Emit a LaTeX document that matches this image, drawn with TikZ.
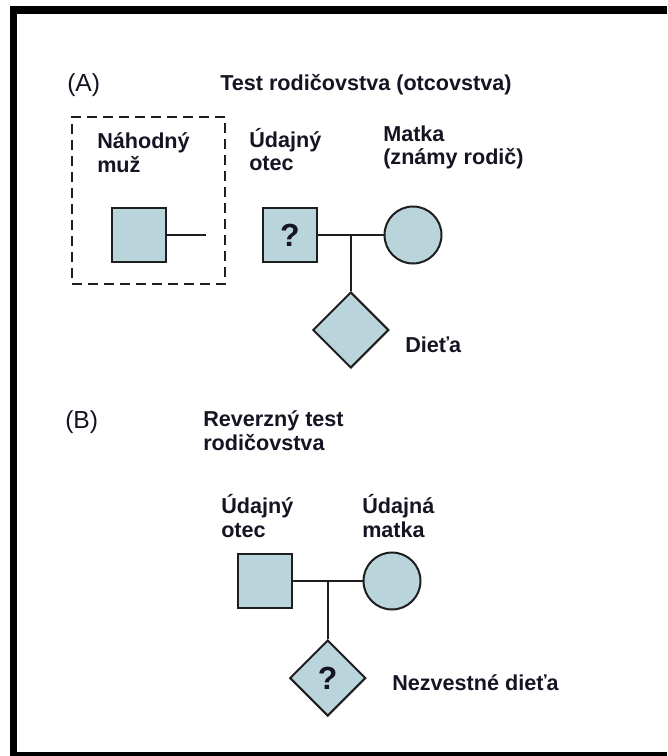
\documentclass[tikz,border=0pt]{standalone}
\usepackage{fontspec}
\setmainfont{Liberation Sans}
\usetikzlibrary{
  shapes.geometric,
  calc,
  positioning}

\definecolor{pedfill}{RGB}{186,212,219}
\definecolor{pedline}{RGB}{30,30,30}
\definecolor{pedtext}{RGB}{20,20,35}

\begin{document}
\begin{tikzpicture}[x=0.75pt,y=-0.75pt]
  \tikzset{manbox/.style={draw=pedline,
                          fill=pedfill,
                          line width=1.5pt,
                          rectangle,
                          minimum size=40.5pt,
                          inner sep=0pt},
           womancirc/.style={draw=pedline,
                             fill=pedfill,
                             line width=1.5pt,
                             circle,
                             minimum size=42.75pt,
                             inner sep=0pt},
           kiddiamond/.style={draw=pedline,
                              fill=pedfill,
                              line width=1.5pt,
                              diamond,
                              aspect=1,
                              minimum size=57pt,
                              inner sep=0pt},
           qmark/.style={font=\fontsize{24}{28}\selectfont\bfseries,
                         text=pedtext},
           tag/.style={inner sep=0pt,
                       align=left,
                       anchor=base west,
                       text=pedtext,
                       font=\fontsize{16.2}{17.5}\selectfont\bfseries},
           part/.style={inner sep=0pt,
                        anchor=base west,
                        text=pedtext,
                        font=\fontsize{18.5}{20}\selectfont},
           link/.style={draw=pedline,
                        line width=1.5pt},
           dashbox/.style={draw=pedline,
                           line width=1.9pt,
                           dash pattern=on 7.5pt off 4.5pt,
                           rectangle,
                           inner sep=0pt}
           }

\useasboundingbox (0,0) rectangle (667,756);

%%%%%%%%%%%%%%%%%%%%%%%%%%%%%%%%%%%%%%%%%%%%%%%%%%%%%%%%%%%%%%%%%%%%%%%%%%%%%%

\draw[line width=5.25pt] (13.5,6) -- (13.5,756);
\draw[line width=6pt] (10,10) -- (667,10);
\draw[line width=4.5pt] (10,755) -- (667,755);

%%%%%%%%%%%%%%%%%%%%%%%%%%%%%%%%%%%%%%%%%%%%%%%%%%%%%%%%%%%%%%%%%%%%%%%%%%%%%%

\node[part] (PA) at (67,92) {(A)};
\node[tag] (TA) at (220,91) {Test rodičovstva (otcovstva)};

\node[dashbox,minimum width=114.75pt,minimum height=125.25pt] (RMbox) at (148.5,200.5) {};
\node[tag] (RMlab) at (97,172) {Náhodný\\muž};
\node[manbox] (RM) at (139,235) {};
\coordinate (RMend) at (206,235);

\node[tag] (AFlab) at (249,171) {Údajný\\otec};
\node[manbox,qmark] (AF) at (290,235) {?};

\node[tag] (MKlab) at (383,165) {Matka\\(známy rodič)};
\node[womancirc] (MK) at (413,235) {};

\coordinate (JA) at ($(AF.east)!0.5!(MK.west)$);
\node[kiddiamond] (CH) at ($(JA)+(0,95)$) {};
\node[tag] (CHlab) at (405,352) {Dieťa};

%%%%%%%%%%%%%%%%%%%%%%%%%%%%%%%%%%%%%%%%%%%%%%%%%%%%%%%%%%%%%%%%%%%%%%%%%%%%%%

\node[part] (PB) at (65,428) {(B)};
\node[tag] (TB) at (203,450) {Reverzný test\\rodičovstva};

\node[tag] (FBlab) at (221,537) {Údajný\\otec};
\node[manbox] (FB) at (265,581) {};

\node[tag] (MBlab) at (362,537) {Údajná\\matka};
\node[womancirc] (MB) at (392,581) {};

\coordinate (JB) at ($(FB.east)!0.5!(MB.west)$);
\node[kiddiamond,qmark] (CB) at ($(JB)+(0,97)$) {?};
\node[tag] (CBlab) at (392,690) {Nezvestné dieťa};

%%%%%%%%%%%%%%%%%%%%%%%%%%%%%%%%%%%%%%%%%%%%%%%%%%%%%%%%%%%%%%%%%%%%%%%%%%%%%%

\draw[link] (RM) -- (RMend);
\draw[link] (AF) -- (MK);
\draw[link] (JA) -- (CH);
\draw[link] (FB) -- (MB);
\draw[link] (JB) -- (CB);

%%%%%%%%%%%%%%%%%%%%%%%%%%%%%%%%%%%%%%%%%%%%%%%%%%%%%%%%%%%%%%%%%%%%%%%%%%%%%%

\end{tikzpicture}
\end{document}
